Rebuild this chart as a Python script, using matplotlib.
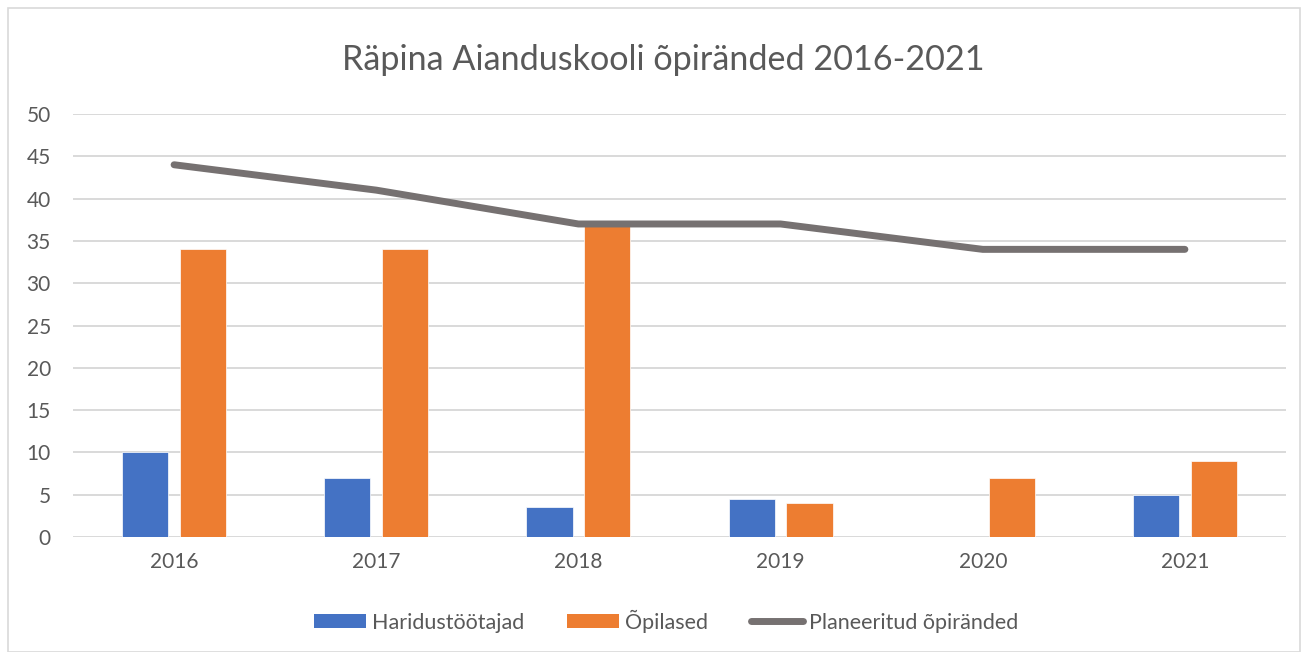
import matplotlib
matplotlib.use('Agg')
import numpy as np
import matplotlib.pyplot as plt
from matplotlib.lines import Line2D
from matplotlib.patches import Patch, Rectangle

years = ['2016', '2017', '2018', '2019', '2020', '2021']
haridustootajad = [10, 7, 3.5, 4.5, 0, 5]
opilased = [34, 34, 37, 4, 7, 9]
planeeritud = [44, 41, 37, 37, 34, 34]

blue = '#4472C4'
orange = '#ED7D31'
gray_line = '#767171'
text_col = '#595959'
grid_col = '#D9D9D9'

plt.rcParams['font.family'] = ['Lato', 'DejaVu Sans']

fig = plt.figure(figsize=(13.08, 6.52), dpi=100)
ax = fig.add_axes([73 / 1308, 1 - 537 / 652, (1286 - 73) / 1308, (537 - 114) / 652])

x = np.arange(len(years))
w = 0.228
off = 0.143
ax.bar(x - off, haridustootajad, w, color=blue, edgecolor='white', linewidth=0.5, zorder=2)
ax.bar(x + off, opilased, w, color=orange, edgecolor='white', linewidth=0.5, zorder=2)
ax.plot(x, planeeritud, color=gray_line, linewidth=5, solid_capstyle='round',
        solid_joinstyle='round', zorder=3)

ax.set_xlim(-0.5, len(years) - 0.5)
ax.set_ylim(0, 50)
ax.set_yticks(range(0, 51, 5))
ax.set_xticks(x)
ax.set_xticklabels(years)
ax.yaxis.grid(True, color=grid_col, linewidth=1.4, zorder=0)
ax.set_axisbelow(True)
for s in ax.spines.values():
    s.set_visible(False)
ax.tick_params(axis='both', length=0, labelsize=15, colors=text_col)
ax.tick_params(axis='y', pad=16)
ax.tick_params(axis='x', pad=11)

fig.text(0.5 + 9 / 1308, 1 - 60 / 652, 'Räpina Aianduskooli õpiränded 2016-2021', ha='center',
         va='center', fontsize=24.6, color=text_col)

handles = [Patch(facecolor=blue), Patch(facecolor=orange),
           Line2D([0], [0], color=gray_line, linewidth=5, solid_capstyle='round')]
labels = ['Haridustöötajad', 'Õpilased', 'Planeeritud õpiränded']
fig.legend(handles, labels, loc='center', bbox_to_anchor=(0.5 + 12 / 1308, 1 - 621 / 652), ncol=3,
           frameon=False, fontsize=15.5, labelcolor=text_col, handlelength=2.4,
           handleheight=0.65, handletextpad=0.28, columnspacing=2.0)

fig.patches.append(Rectangle((8 / 1308, 0), 1 - 16 / 1308, 1 - 8 / 652, transform=fig.transFigure,
                             fill=False, edgecolor=grid_col, linewidth=1.2))

fig.savefig('out.png', dpi=100)
